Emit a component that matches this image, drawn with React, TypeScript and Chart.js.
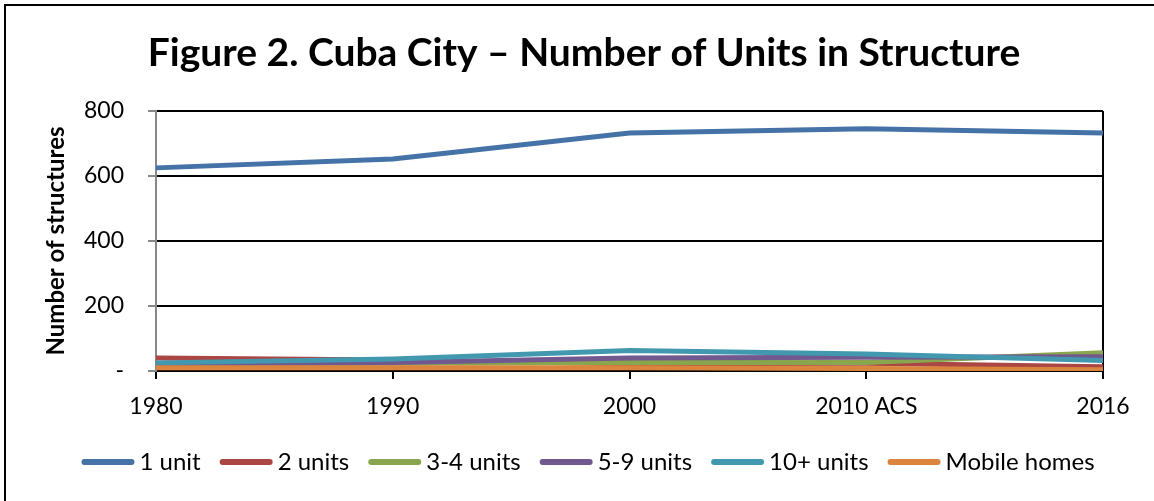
import React, { useEffect, useRef } from "react";
import { Chart, registerables } from "chart.js";

Chart.register(...registerables);

const TITLE = "Figure 2. Cuba City \u2013 Number of Units in Structure";
const Y_TITLE = "Number of structures";
const categories = ["1980", "1990", "2000", "2010 ACS", "2016"];
const seriesNames = ["1 unit", "2 units", "3-4 units", "5-9 units", "10+ units", "Mobile homes"];
const oneUnit = [625, 652, 732, 745, 732];
const twoUnits = [40, 34, 22, 24, 13];
const threeFourUnits = [20, 24, 26, 26, 56];
const fiveNineUnits = [22, 26, 40, 42, 44];
const tenPlusUnits = [25, 37, 63, 52, 32];
const mobileHomes = [10, 10, 10, 8, 4];
const yTicks = [0, 200, 400, 600, 800];
const colors = ["#4572A7", "#AA4643", "#89A54E", "#71588F", "#4198AF", "#DB843D"];

const FONT = "Lato, 'Open Sans', sans-serif";

const decorPlugin = {
  id: "decor",
  afterDraw(chart: any) {
    const ctx = chart.ctx as CanvasRenderingContext2D;
    ctx.save();
    // outer frame
    ctx.strokeStyle = "#000";
    ctx.lineWidth = 2;
    ctx.strokeRect(5, 5, 1200, 600);
    // title
    ctx.fillStyle = "#000";
    ctx.font = `bold 39px ${FONT}`;
    ctx.textAlign = "center";
    ctx.textBaseline = "middle";
    ctx.fillText(TITLE, 584, 53);
    // legend
    ctx.font = `24px ${FONT}`;
    const lineW = 53;
    const gapText = 5;
    const gapItem = 19;
    const widths = seriesNames.map((n) => ctx.measureText(n).width);
    let total = 0;
    widths.forEach((w, i) => {
      total += lineW + gapText + w + (i < widths.length - 1 ? gapItem : 0);
    });
    let x = 588 - total / 2;
    const y = 462;
    ctx.textAlign = "left";
    ctx.textBaseline = "middle";
    seriesNames.forEach((n, i) => {
      ctx.strokeStyle = colors[i];
      ctx.lineWidth = 6;
      ctx.lineCap = "round";
      ctx.beginPath();
      ctx.moveTo(x + 3, y);
      ctx.lineTo(x + lineW - 3, y);
      ctx.stroke();
      ctx.fillStyle = "#000";
      ctx.fillText(n, x + lineW + gapText, y);
      x += lineW + gapText + widths[i] + gapItem;
    });
    ctx.restore();
  },
};

export default function App() {
  const ref = useRef<HTMLCanvasElement | null>(null);
  useEffect(() => {
    document.body.style.margin = "0";
    if (!ref.current) return;
    const data = [oneUnit, twoUnits, threeFourUnits, fiveNineUnits, tenPlusUnits, mobileHomes];
    const chart = new Chart(ref.current, {
      type: "line",
      data: {
        labels: categories,
        datasets: data.map((d, i) => ({
          label: seriesNames[i],
          data: d,
          borderColor: colors[i],
          backgroundColor: colors[i],
          borderWidth: 5,
          pointRadius: 0,
          tension: 0,
          fill: false,
          order: 10 - i,
        })),
      },
      options: {
        responsive: false,
        animation: false,
        events: [],
        layout: { padding: { top: 111, left: 34, right: 51, bottom: 70 } },
        plugins: {
          legend: { display: false },
          title: { display: false },
          tooltip: { enabled: false },
        },
        scales: {
          x: {
            type: "category",
            offset: false,
            afterFit(scale: any) {
              scale.height = 60;
            },
            grid: {
              display: true,
              drawOnChartArea: true,
              drawTicks: true,
              tickLength: 8,
              lineWidth: 2,
              color: (c: any) => (c.index === categories.length - 1 ? "#000" : "rgba(0,0,0,0)"),
              tickColor: "#000",
            },
            border: { display: true, color: "#000", width: 2 },
            ticks: {
              color: "#000",
              font: { family: FONT, size: 23 },
              padding: 14,
              maxRotation: 0,
              autoSkip: false,
            },
          },
          y: {
            min: 0,
            max: 800,
            afterFit(scale: any) {
              scale.width = 122;
            },
            afterBuildTicks(scale: any) {
              scale.ticks = yTicks.map((v) => ({ value: v }));
            },
            grid: {
              display: true,
              drawTicks: true,
              tickLength: 8,
              lineWidth: 2,
              color: (c: any) => (c.tick && c.tick.value === 0 ? "rgba(0,0,0,0)" : "#000"),
              tickColor: "#888",
            },
            border: { display: true, color: "#888", width: 2 },
            ticks: {
              color: "#000",
              font: { family: FONT, size: 23 },
              padding: 24,
              callback: (v: any) => (Number(v) === 0 ? "-" : String(v)),
            },
            title: {
              display: true,
              text: Y_TITLE,
              color: "#000",
              font: { family: FONT, size: 24, weight: "bold" },
              padding: { top: 8, bottom: 0 },
            },
          },
        },
      },
      plugins: [decorPlugin],
    });
    return () => chart.destroy();
  }, []);
  return (
    <div style={{ width: 1154, height: 501, position: "relative", background: "#fff" }}>
      <canvas ref={ref} width={1154} height={501} style={{ display: "block" }} />
    </div>
  );
}
